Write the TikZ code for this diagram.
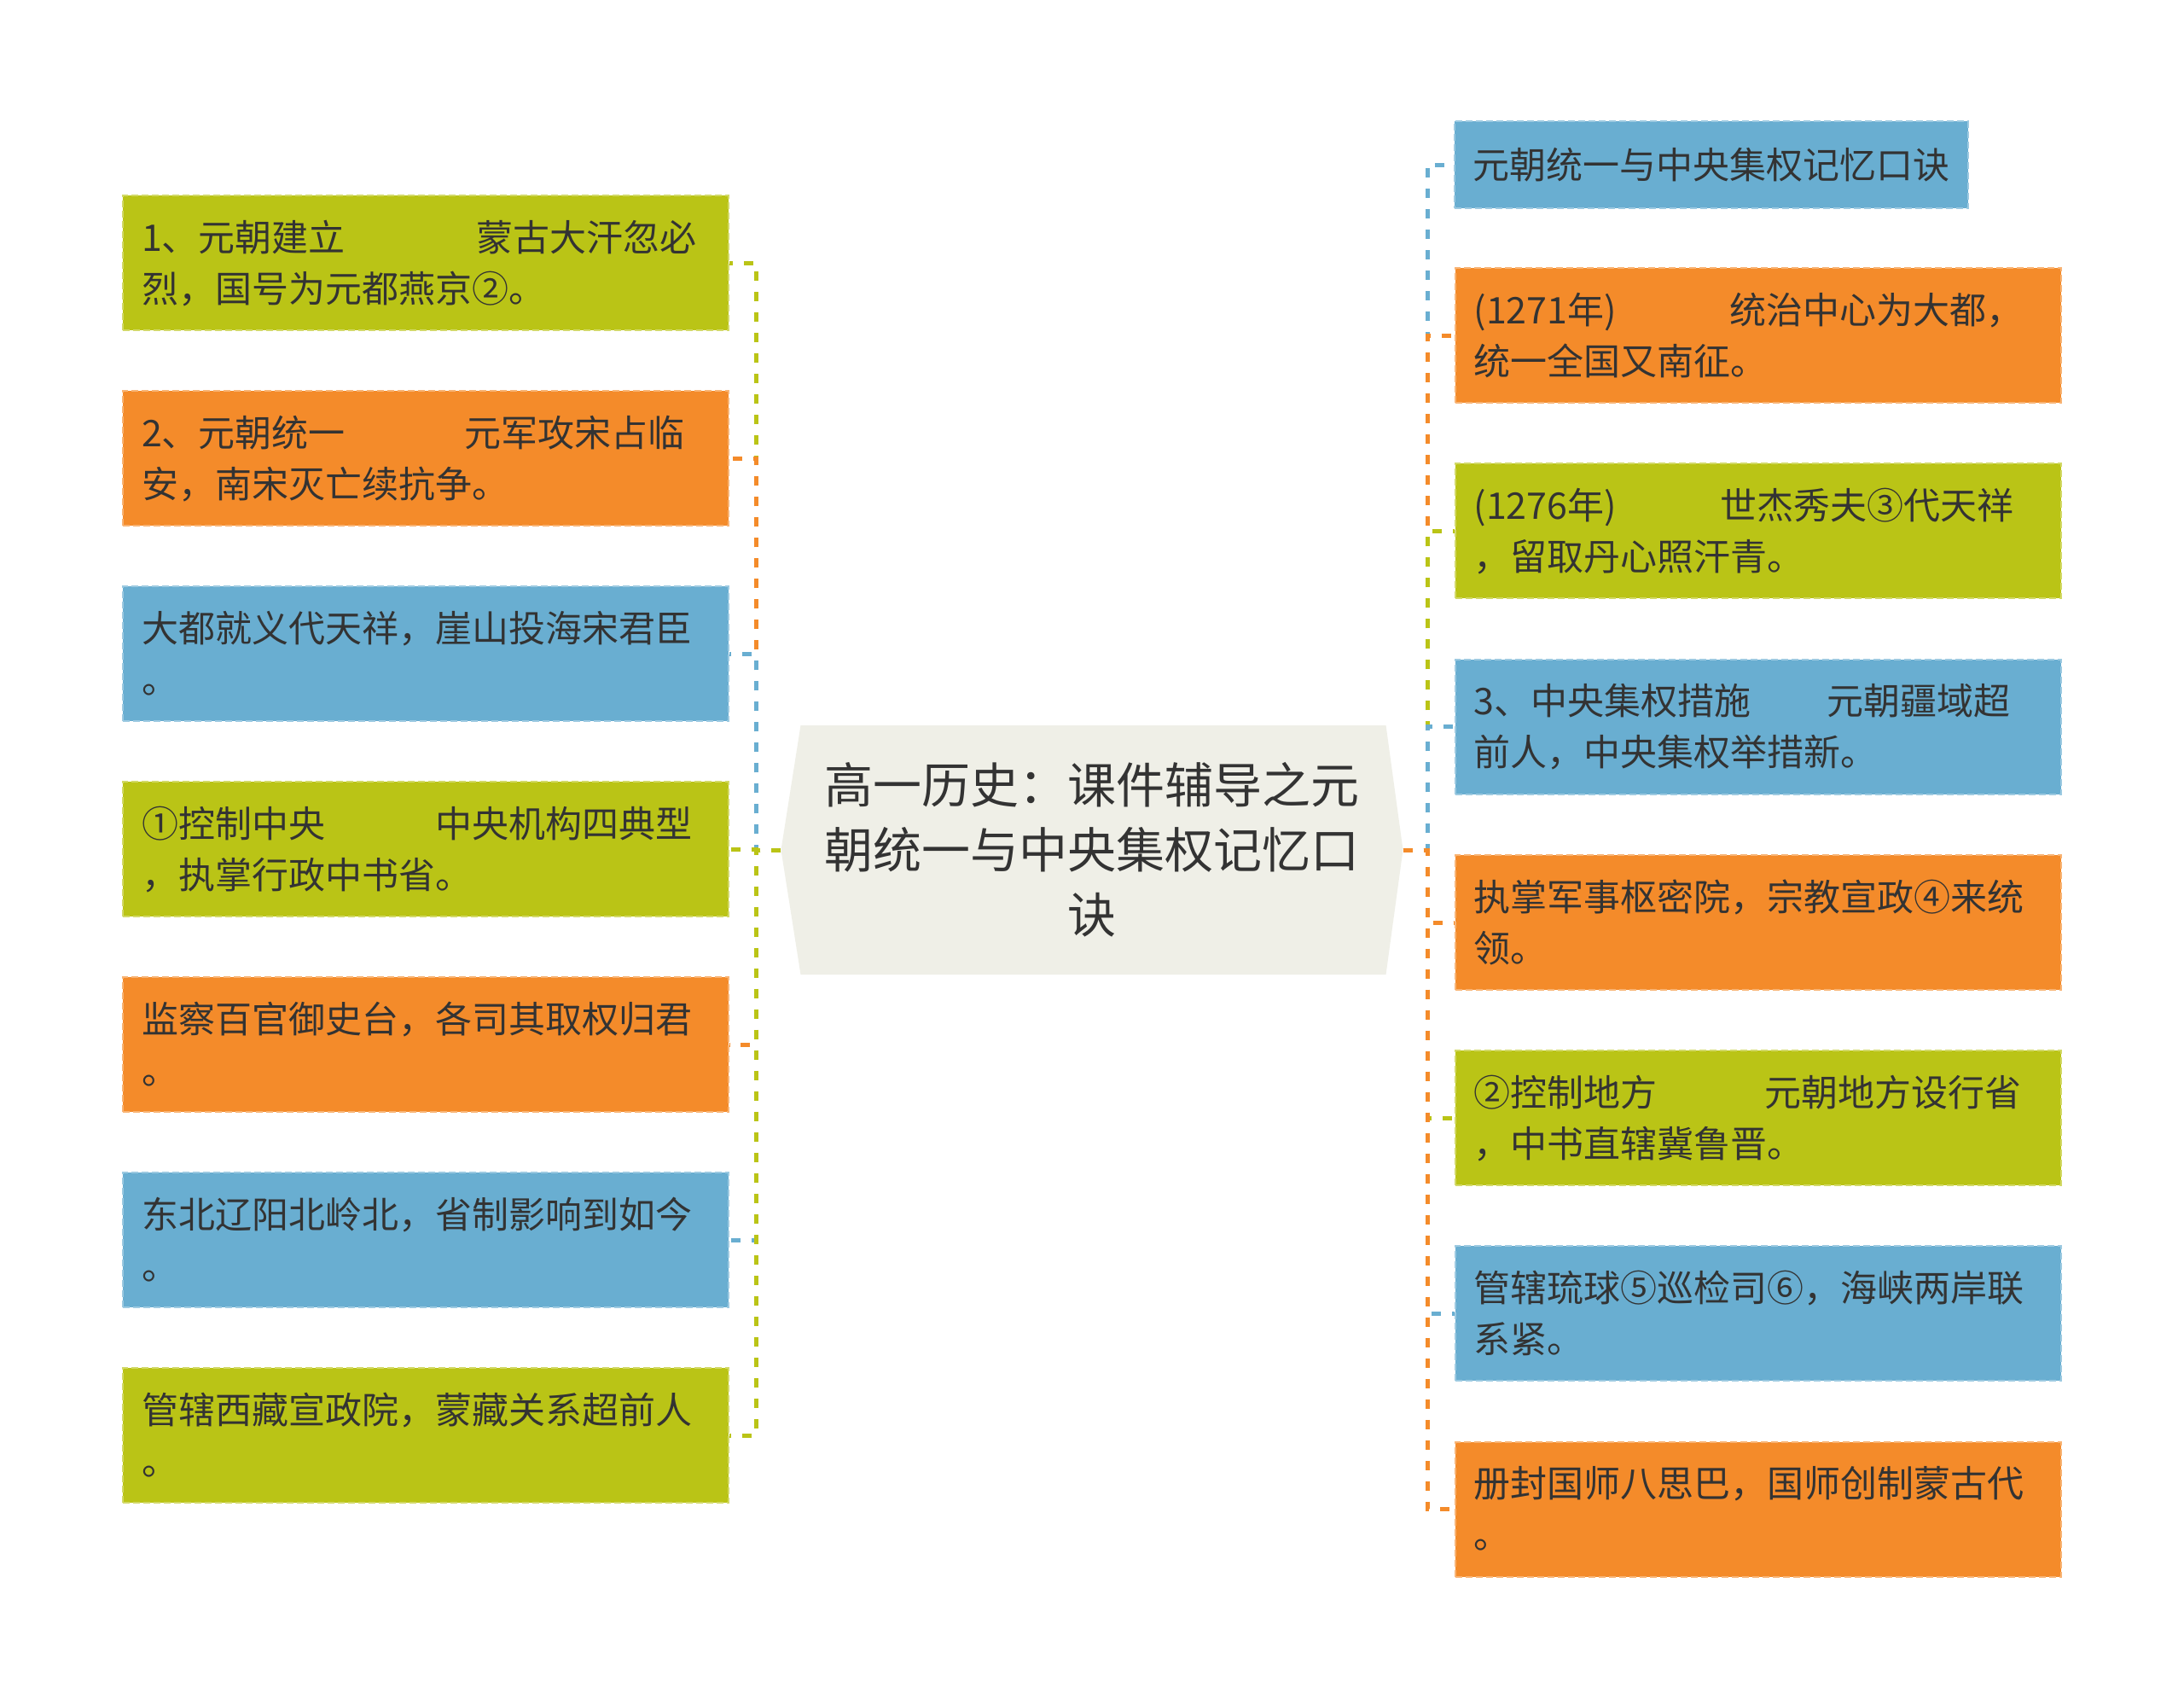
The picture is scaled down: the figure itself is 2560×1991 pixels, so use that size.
\documentclass[tikz,border=0pt]{standalone}
\usepackage{fontspec}
\setmainfont{Noto Sans CJK SC}
\definecolor{cgreen}{HTML}{BAC416}
\definecolor{corange}{HTML}{F48B2A}
\definecolor{cblue}{HTML}{69AED1}
\definecolor{ccenter}{HTML}{EFEFE7}
\definecolor{ctext}{HTML}{333333}
\newcommand\leaffont{\fontsize{21.5pt}{30pt}\selectfont}
\newcommand\ctrfont{\fontsize{28.5pt}{38pt}\selectfont}
\newcommand\ls{\rule[-3.1pt]{0pt}{22.6pt}}
\newcommand\cls{\rule[-3.8pt]{0pt}{29.3pt}}
\tikzset{
  leaf/.style={inner xsep=11pt, inner ysep=0pt, text width=333pt,
    minimum height=79pt, align=left, font=\leaffont, text=ctext,
    fill=#1, draw=#1!65!white, dash pattern=on 4pt off 2pt, line width=1pt},
  edge/.style={draw=#1, line width=2.5pt, dash pattern=on 5.5pt off 6.5pt},
  centerbox/.style={inner sep=0pt, minimum width=364.5pt, minimum height=146pt,
    align=center, font=\ctrfont, text=ctext,
    path picture={\fill[ccenter]
      ([xshift=11.5pt]path picture bounding box.north west)
      -- (path picture bounding box.west)
      -- ([xshift=11.5pt]path picture bounding box.south west)
      -- ([xshift=-10pt]path picture bounding box.south east)
      -- (path picture bounding box.east)
      -- ([xshift=-10pt]path picture bounding box.north east) -- cycle;}}
}
\begin{document}
\begin{tikzpicture}[x=0.5pt, y=-0.5pt]
\useasboundingbox (0,0) rectangle (2560,1991);
\fill[white] (0,0) rectangle (2560,1991);

% centre
\node[centerbox] (C) at (1280,996) {\cls 高一历史：课件辅导之元\\\cls 朝统一与中央集权记忆口\\\cls 诀};
\coordinate (LV) at (886,996);
\coordinate (RV) at (1673,996);

% left boxes
\node[leaf=cgreen]  (L1) at (499,308)  {\ls\makebox[196pt][l]{1、元朝建立}蒙古大汗忽必\\\ls 烈，国号为元都燕京②。};
\node[leaf=corange] (L2) at (499,537)  {\ls\makebox[189pt][l]{2、元朝统一}元军攻宋占临\\\ls 安，南宋灭亡续抗争。};
\node[leaf=cblue]   (L3) at (499,766)  {\ls 大都就义代天祥，崖山投海宋君臣\\\ls 。};
\node[leaf=cgreen]  (L4) at (499,995)  {\ls\makebox[172pt][l]{①控制中央}中央机构四典型\\\ls ，执掌行政中书省。};
\node[leaf=corange] (L5) at (499,1224) {\ls 监察百官御史台，各司其取权归君\\\ls 。};
\node[leaf=cblue]   (L6) at (499,1453) {\ls 东北辽阳北岭北，省制影响到如今\\\ls 。};
\node[leaf=cgreen]  (L7) at (499,1682) {\ls 管辖西藏宣政院，蒙藏关系超前人\\\ls 。};

% right boxes
\node[leaf=cblue, text width=280pt, inner xsep=10.5pt, minimum height=50.5pt] (R1) at (2006,193) {\ls 元朝统一与中央集权记忆口诀};
\node[leaf=corange] (R2) at (2060.5,393)  {\ls\makebox[150pt][l]{(1271年)}统治中心为大都，\\\ls 统一全国又南征。};
\node[leaf=cgreen]  (R3) at (2060.5,622)  {\ls\makebox[144.5pt][l]{(1276年)}世杰秀夫③代天祥\\\ls ，留取丹心照汗青。};
\node[leaf=cblue]   (R4) at (2060.5,851.5){\ls\makebox[207pt][l]{3、中央集权措施}元朝疆域超\\\ls 前人，中央集权举措新。};
\node[leaf=corange] (R5) at (2060.5,1081) {\ls 执掌军事枢密院，宗教宣政④来统\\\ls 领。};
\node[leaf=cgreen]  (R6) at (2060.5,1310) {\ls\makebox[170.5pt][l]{②控制地方}元朝地方设行省\\\ls ，中书直辖冀鲁晋。};
\node[leaf=cblue]   (R7) at (2060.5,1539) {\ls 管辖琉球⑤巡检司⑥，海峡两岸联\\\ls 系紧。};
\node[leaf=corange] (R8) at (2060.5,1768.5){\ls 册封国师八思巴，国师创制蒙古代\\\ls 。};

% left connectors
\draw[edge=cgreen]  (C.west) -- (LV) |- (L1.east);
\draw[edge=corange] (C.west) -- (LV) |- (L2.east);
\draw[edge=cblue]   (C.west) -- (LV) |- (L3.east);
\draw[edge=cgreen]  (C.west) -- (LV) |- (L4.east);
\draw[edge=corange] (C.west) -- (LV) |- (L5.east);
\draw[edge=cblue]   (C.west) -- (LV) |- (L6.east);
\draw[edge=cgreen]  (C.west) -- (LV) |- (L7.east);

% right connectors
\draw[edge=cblue]   (C.east) -- (RV) |- (R1.west);
\draw[edge=corange] (C.east) -- (RV) |- (R2.west);
\draw[edge=cgreen]  (C.east) -- (RV) |- (R3.west);
\draw[edge=cblue]   (C.east) -- (RV) |- (R4.west);
\draw[edge=corange] (C.east) -- (RV) |- (R5.west);
\draw[edge=cgreen]  (C.east) -- (RV) |- (R6.west);
\draw[edge=cblue]   (C.east) -- (RV) |- (R7.west);
\draw[edge=corange] (C.east) -- (RV) |- (R8.west);
\end{tikzpicture}
\end{document}
